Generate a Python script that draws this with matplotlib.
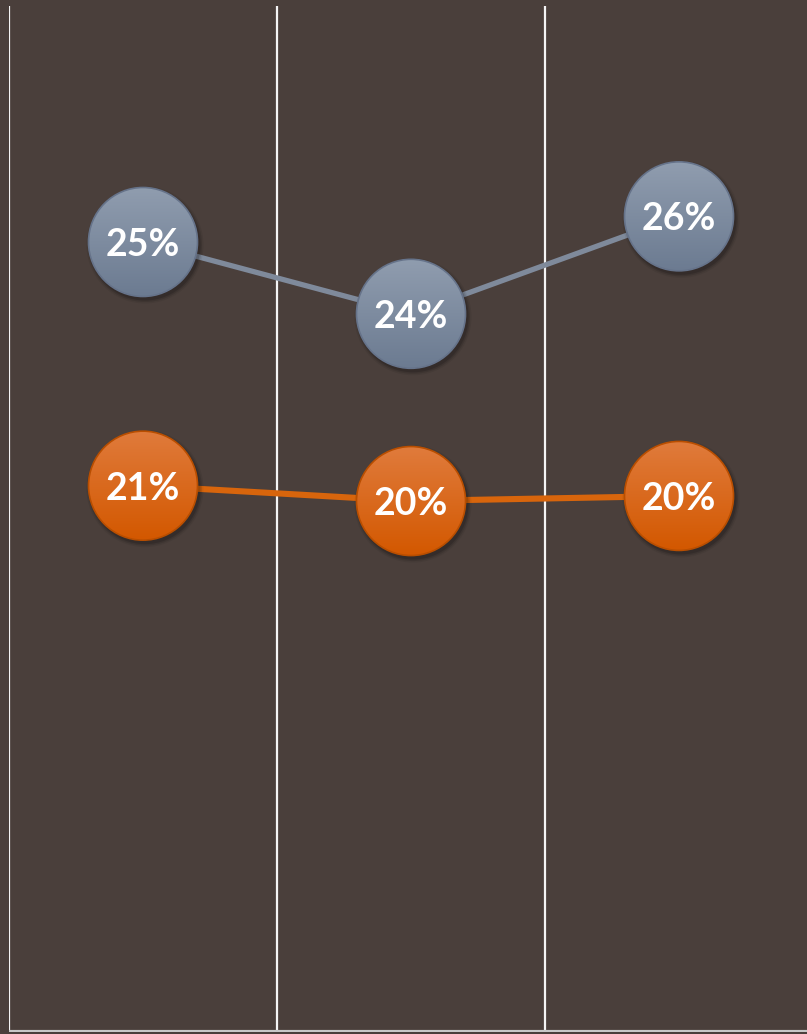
import matplotlib.pyplot as plt
import numpy as np
from matplotlib.patches import Ellipse
from matplotlib.colors import LinearSegmentedColormap

# valeurs (axe de 10 % à 30 %)
categories = [0, 1, 2]
serie_gris = [25.4, 24.0, 25.9]
serie_orange = [20.65, 20.35, 20.45]
etiq_gris = ["25%", "24%", "26%"]
etiq_orange = ["21%", "20%", "20%"]

fond = "#4a3f3b"
W, H = 807, 1034

fig = plt.figure(figsize=(W / 100, H / 100), dpi=100)
fig.patch.set_facecolor(fond)
ax = fig.add_axes([9 / W, 2 / H, 804 / W, 1026 / H])
ax.set_facecolor(fond)
ax.set_xlim(-0.5, 2.5)
ax.set_ylim(10, 30)
for s in ax.spines.values():
    s.set_visible(False)
ax.set_xticks([])
ax.set_yticks([])

# séparateurs verticaux et ligne du bas
for xv in [-0.5, 0.5, 1.5, 2.5]:
    ax.axvline(xv, color="#f4f4f4", lw=1.6, zorder=1)
ax.axhline(10, color="#c8c8c8", lw=3, zorder=1)

# taille d'un pixel en unités de données
pw = 3.0 / 804
ph = 20.0 / 1026
r = 54.5


def bulle(x, y, haut, bas, bord, texte):
    rx, ry = r * pw, r * ph
    # ombre
    for k, a in [(4, 0.06), (2.5, 0.1), (1, 0.14)]:
        sh = Ellipse((x + 2 * pw, y - 3 * ph), 2 * (r + k) * pw, 2 * (r + k) * ph,
                     color="black", alpha=a, lw=0, zorder=3)
        ax.add_patch(sh)
    cmap = LinearSegmentedColormap.from_list("g", [haut, bas])
    grad = np.linspace(0, 1, 200).reshape(-1, 1)
    clip = Ellipse((x, y), 2 * rx, 2 * ry, facecolor="none", edgecolor="none")
    ax.add_patch(clip)
    im = ax.imshow(grad, cmap=cmap, extent=[x - rx, x + rx, y - ry, y + ry],
                   aspect="auto", origin="upper", zorder=4, interpolation="bilinear")
    im.set_clip_path(clip)
    ax.add_patch(Ellipse((x, y), 2 * rx, 2 * ry, facecolor="none",
                         edgecolor=bord, lw=1.2, zorder=5))
    ax.text(x, y - 3 * ph, texte, ha="center", va="center", color="white",
            fontsize=27, fontweight="bold", family="Lato", zorder=6)


ax.plot(categories, serie_gris, color="#7f8a9b", lw=3.8, zorder=2)
ax.plot(categories, serie_orange, color="#d8650c", lw=4.4, zorder=2)

for x, y, t in zip(categories, serie_gris, etiq_gris):
    bulle(x, y, "#909daf", "#6c7b91", "#66738a", t)
for x, y, t in zip(categories, serie_orange, etiq_orange):
    bulle(x, y, "#e07b3c", "#d35800", "#b94e00", t)

ax.set_xlim(-0.5, 2.5)
ax.set_ylim(10, 30)
fig.savefig("out.png", dpi=100, facecolor=fond)
